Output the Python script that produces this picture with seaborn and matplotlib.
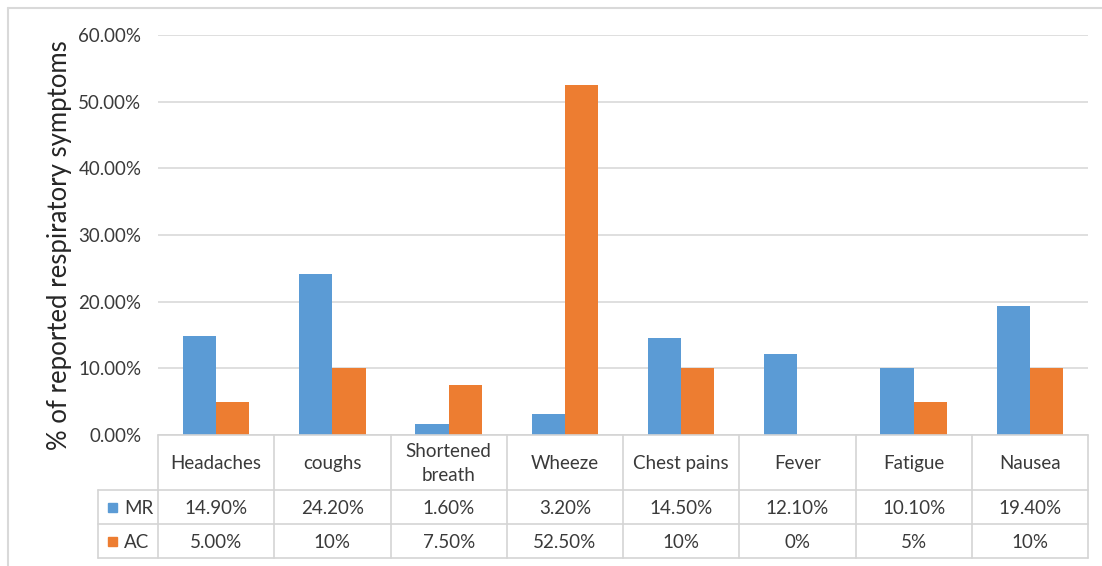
import matplotlib
matplotlib.use("Agg")
import matplotlib.pyplot as plt
import seaborn as sns
import pandas as pd
from matplotlib.ticker import PercentFormatter, MultipleLocator
from matplotlib.transforms import blended_transform_factory
from matplotlib.patches import Rectangle

categories = ["Headaches", "coughs", "Shortened\nbreath", "Wheeze", "Chest pains", "Fever", "Fatigue", "Nausea"]
series_names = ["MR", "AC"]
mr_values = [14.9, 24.2, 1.6, 3.2, 14.5, 12.1, 10.1, 19.4]
ac_values = [5.0, 10.0, 7.5, 52.5, 10.0, 0.0, 5.0, 10.0]
mr_labels = ["14.90%", "24.20%", "1.60%", "3.20%", "14.50%", "12.10%", "10.10%", "19.40%"]
ac_labels = ["5.00%", "10%", "7.50%", "52.50%", "10%", "0%", "5%", "10%"]
y_label = "% of reported respiratory symptoms"

colors = ["#5B9BD5", "#ED7D31"]
grid_c = "#D9D9D9"
text_c = "#3A3A3A"

sns.set_theme(style="white")
plt.rcParams["font.family"] = ["Lato", "DejaVu Sans"]

df = pd.DataFrame({
    "cat": categories * 2,
    "series": [series_names[0]] * len(categories) + [series_names[1]] * len(categories),
    "value": [v / 100 for v in mr_values] + [v / 100 for v in ac_values],
})

W, H = 1102, 566
fig = plt.figure(figsize=(W / 100, H / 100), dpi=100)
L, R, T, B = 158, 1088, 35, 435
ax = fig.add_axes([L / W, 1 - B / H, (R - L) / W, (B - T) / H])

sns.barplot(data=df, x="cat", y="value", hue="series", order=categories,
            hue_order=series_names, palette=colors, width=0.57, gap=0,
            saturation=1, ax=ax, legend=False, edgecolor="none", linewidth=0)

ax.set_xlim(-0.5, len(categories) - 0.5)
ax.set_ylim(0, 0.6)
ax.yaxis.set_major_locator(MultipleLocator(0.1))
ax.yaxis.set_major_formatter(PercentFormatter(1, decimals=2))
ax.grid(axis="y", color=grid_c, linewidth=1.2)
ax.set_axisbelow(True)
for s in ax.spines.values():
    s.set_visible(False)
ax.set_xlabel("")
ax.set_ylabel("")
ax.set_xticks([])
ax.tick_params(axis="y", length=0, pad=12, labelsize=13.5, labelcolor=text_c)

# overlay for table and frame
ov = fig.add_axes([0, 0, 1, 1], zorder=-1)
ov.set_xlim(0, W)
ov.set_ylim(H, 0)
ov.axis("off")
ov.patch.set_alpha(0)
ov2 = fig.add_axes([0, 0, 1, 1])
ov2.set_xlim(0, W)
ov2.set_ylim(H, 0)
ov2.axis("off")
ov2.patch.set_alpha(0)

# outer frame (left/top visible)
ov.plot([8, 8], [8, H], color="#D9D9D9", lw=1.5)
ov.plot([8, W], [8, 8], color="#D9D9D9", lw=1.5)

bt = blended_transform_factory(ax.transData, ov2.transData)
line_c = "#D4D4D4"
row_top, row1, row2, row_bot = 435, 490, 524, 558
leg_left = 98
n = len(categories)
# horizontal lines
ov2.plot([L, R], [row_top, row_top], color=line_c, lw=1.2)
for yy in (row1, row2, row_bot):
    ov2.plot([leg_left, R], [yy, yy], color=line_c, lw=1.2)
# vertical lines
ov2.plot([leg_left, leg_left], [row1, row_bot], color=line_c, lw=1.2)
for i in range(n + 1):
    ov2.plot([i - 0.5, i - 0.5], [row_top, row_bot], color=line_c, lw=1.2, transform=bt)

fs = 13.5
for i, c in enumerate(categories):
    ov2.text(i, (row_top + row1) / 2 + 1, c, ha="center", va="center", fontsize=fs,
             color=text_c, transform=bt, linespacing=1.45)
    ov2.text(i, (row1 + row2) / 2 + 1, mr_labels[i], ha="center", va="center",
             fontsize=fs, color=text_c, transform=bt)
    ov2.text(i, (row2 + row_bot) / 2 + 1, ac_labels[i], ha="center", va="center",
             fontsize=fs, color=text_c, transform=bt)

for j, (name, col) in enumerate(zip(series_names, colors)):
    yc = (row1 + row2) / 2 if j == 0 else (row2 + row_bot) / 2
    ov2.add_patch(Rectangle((108, yc - 4.5), 9, 9, color=col))
    ov2.text(124, yc + 1, name, ha="left", va="center", fontsize=fs, color=text_c)

fig.text(60 / W, 1 - 245 / H, y_label, rotation=90, ha="center", va="center",
         fontsize=18.5, color="#262626")

fig.savefig("out.png", dpi=100, facecolor="white")
